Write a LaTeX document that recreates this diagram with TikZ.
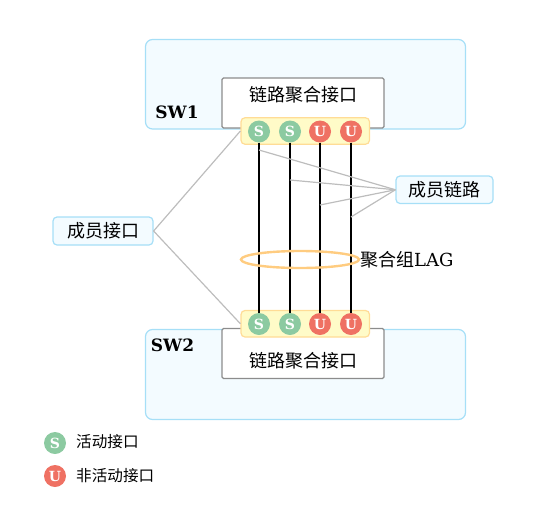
\documentclass[tikz,border=0pt]{standalone}
\usepackage{fontspec}
\usetikzlibrary{shapes.geometric}
\setmainfont{DejaVu Serif}
\newfontfamily\cjk{Noto Sans CJK SC}
\definecolor{swfill}{HTML}{F3FBFF}
\definecolor{swline}{HTML}{A6DFF7}
\definecolor{ifline}{HTML}{8C8C8C}
\definecolor{yfill}{HTML}{FFFBC8}
\definecolor{yline}{HTML}{FFDC96}
\definecolor{sgreen}{HTML}{8CCAA1}
\definecolor{ured}{HTML}{EF7163}
\definecolor{leader}{HTML}{BDBDBD}
\definecolor{lagc}{HTML}{FFCC80}
\tikzset{
  swbox/.style={draw=swline,fill=swfill,line width=1.2pt,rounded corners=7pt,minimum width=320pt,inner sep=0pt},
  ifbox/.style={draw=ifline,fill=white,line width=1.3pt,rounded corners=1.5pt,minimum width=162pt,minimum height=50pt,inner sep=0pt},
  ybox/.style={draw=yline,fill=yfill,line width=1.2pt,rounded corners=4pt,minimum width=128.5pt,minimum height=26.5pt,inner sep=0pt},
  port/.style={circle,minimum size=22pt,inner sep=0pt,text=white,font=\fontsize{14}{14}\selectfont\bfseries},
  sport/.style={port,fill=sgreen},
  uport/.style={port,fill=ured},
  tag/.style={draw=swline,fill=swfill,line width=1.2pt,rounded corners=4pt,inner sep=0pt,font=\fontsize{18}{18}\selectfont\cjk},
  label/.style={inner sep=0pt,font=\fontsize{18}{18}\selectfont\cjk},
  swname/.style={inner sep=0pt,font=\fontsize{17}{17}\selectfont\bfseries},
  legendtext/.style={inner sep=0pt,anchor=west,font=\fontsize{15.6}{15.6}\selectfont\cjk},
  link/.style={black,line width=2.4pt},
  leaderline/.style={leader,line width=1.2pt}
}
\begin{document}
\begin{tikzpicture}[x=1pt,y=-1pt]
\useasboundingbox (0,0) rectangle (540,517);
% switches
\node[swbox,minimum height=89.5pt] (sw1) at (305.5,84.25) {};
\node[swbox,minimum height=90pt] (sw2) at (305.5,374.5) {};
\node[swname] (sw1n) at (177,112) {SW1};
\node[swname] (sw2n) at (172.5,345.5) {SW2};
\node[ifbox] (if1) at (303,103) {};
\node[ifbox] (if2) at (303,353.5) {};
\node[label] (if1t) at (303,94.5) {链路聚合接口};
\node[label] (if2t) at (303,361) {链路聚合接口};
\node[ybox] (y1) at (305.25,131) {};
\node[ybox] (y2) at (305.25,323.75) {};
% ports
\node[sport] (a1) at (259,131.5) {S};
\node[sport] (a2) at (290,131.5) {S};
\node[uport] (a3) at (320,131.5) {U};
\node[uport] (a4) at (351,131.5) {U};
\node[sport] (b1) at (259,324) {S};
\node[sport] (b2) at (290,324) {S};
\node[uport] (b3) at (320,324) {U};
\node[uport] (b4) at (351,324) {U};
% links
\draw[link] (a1) -- (b1);
\draw[link] (a2) -- (b2);
\draw[link] (a3) -- (b3);
\draw[link] (a4) -- (b4);
% LAG
\node[draw=lagc,line width=2.4pt,ellipse,minimum width=118pt,minimum height=17pt,inner sep=0pt] (lag) at (300,259.5) {};
\node[inner sep=0pt,anchor=west,font=\fontsize{18}{18}\selectfont] (lagt) at (360,260) {{\cjk 聚合组}LAG};
% member tags
\node[tag,minimum width=97pt,minimum height=27.5pt] (ml) at (444.5,189.75) {成员链路};
\node[tag,minimum width=100pt,minimum height=28pt] (mp) at (103,231) {成员接口};
\coordinate (l1) at (259,150);
\coordinate (l2) at (290,180);
\coordinate (l3) at (320,205);
\coordinate (l4) at (351,217);
\draw[leaderline] (l1) -- (ml.west);
\draw[leaderline] (l2) -- (ml.west);
\draw[leaderline] (l3) -- (ml.west);
\draw[leaderline] (l4) -- (ml.west);
\draw[leaderline] (mp.east) -- (y1.west);
\draw[leaderline] (mp.east) -- (y2.west);
% legend
\node[sport] (ls) at (55,443) {S};
\node[uport] (lu) at (55,476) {U};
\node[legendtext] (lst) at (76,442) {活动接口};
\node[legendtext] (lut) at (76,475.5) {非活动接口};
\end{tikzpicture}
\end{document}
